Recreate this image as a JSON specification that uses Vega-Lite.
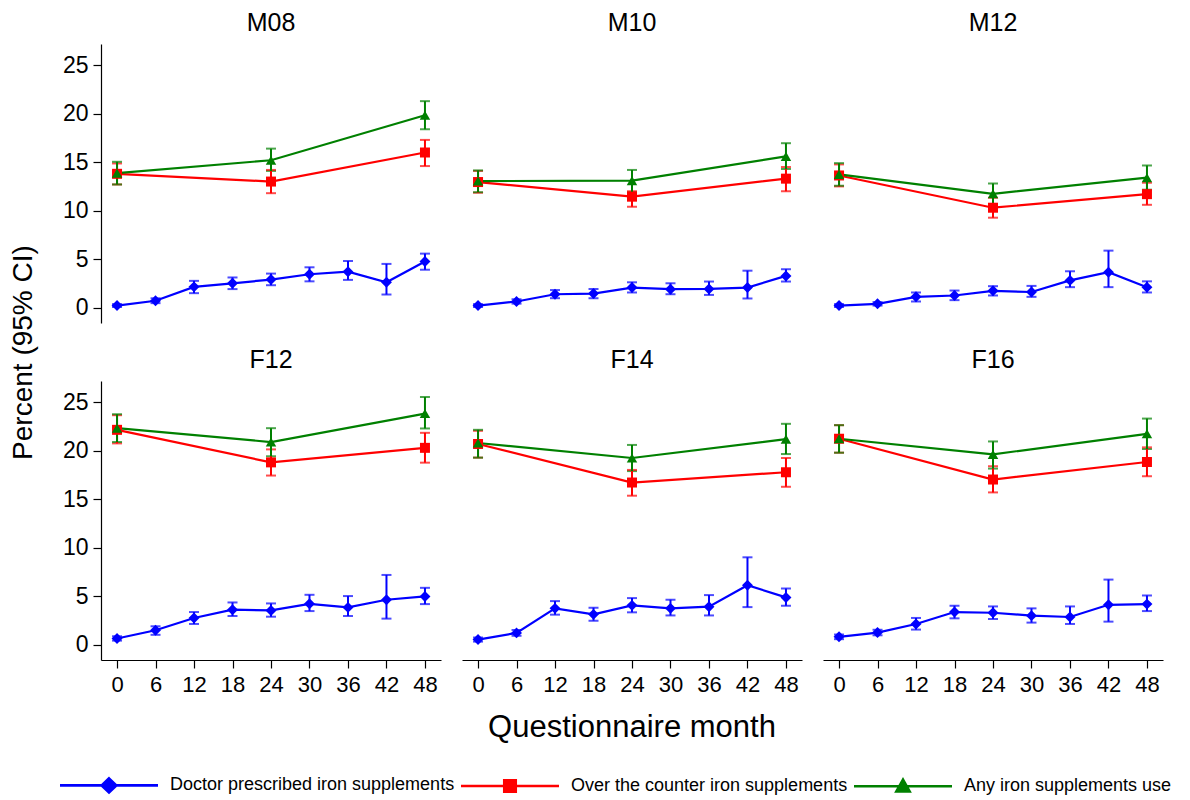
{
  "$schema": "https://vega.github.io/schema/vega-lite/v6.json",
  "background": "white",
  "padding": {"left": 9, "top": 11, "right": 5, "bottom": 5},
  "title": {"text": "Percent (95% CI)", "orient": "left", "anchor": "middle", "fontSize": 28, "fontWeight": "normal", "font": "Liberation Sans", "color": "#000", "offset": 20, "dx": 52},
  "data": {"values": [
    {"g":"M08","s":"Doctor prescribed iron supplements","m":0,"v":0.2,"lo":0.05,"hi":0.35},
    {"g":"M08","s":"Doctor prescribed iron supplements","m":6,"v":0.7,"lo":0.45,"hi":0.95},
    {"g":"M08","s":"Doctor prescribed iron supplements","m":12,"v":2.13,"lo":1.48,"hi":2.75},
    {"g":"M08","s":"Doctor prescribed iron supplements","m":18,"v":2.5,"lo":1.9,"hi":3.1},
    {"g":"M08","s":"Doctor prescribed iron supplements","m":24,"v":2.88,"lo":2.3,"hi":3.5},
    {"g":"M08","s":"Doctor prescribed iron supplements","m":30,"v":3.43,"lo":2.7,"hi":4.15},
    {"g":"M08","s":"Doctor prescribed iron supplements","m":36,"v":3.7,"lo":2.85,"hi":4.8},
    {"g":"M08","s":"Doctor prescribed iron supplements","m":42,"v":2.6,"lo":1.34,"hi":4.5},
    {"g":"M08","s":"Doctor prescribed iron supplements","m":48,"v":4.74,"lo":3.9,"hi":5.56},
    {"g":"M08","s":"Over the counter iron supplements","m":0,"v":13.8,"lo":12.7,"hi":14.87},
    {"g":"M08","s":"Over the counter iron supplements","m":24,"v":13.0,"lo":11.8,"hi":14.2},
    {"g":"M08","s":"Over the counter iron supplements","m":48,"v":16.0,"lo":14.6,"hi":17.3},
    {"g":"M08","s":"Any iron supplements use","m":0,"v":13.87,"lo":12.7,"hi":15.04},
    {"g":"M08","s":"Any iron supplements use","m":24,"v":15.2,"lo":14.1,"hi":16.4},
    {"g":"M08","s":"Any iron supplements use","m":48,"v":19.85,"lo":18.4,"hi":21.3},

    {"g":"M10","s":"Doctor prescribed iron supplements","m":0,"v":0.2,"lo":0.05,"hi":0.35},
    {"g":"M10","s":"Doctor prescribed iron supplements","m":6,"v":0.62,"lo":0.4,"hi":0.85},
    {"g":"M10","s":"Doctor prescribed iron supplements","m":12,"v":1.37,"lo":0.96,"hi":1.8},
    {"g":"M10","s":"Doctor prescribed iron supplements","m":18,"v":1.44,"lo":0.96,"hi":1.9},
    {"g":"M10","s":"Doctor prescribed iron supplements","m":24,"v":2.06,"lo":1.55,"hi":2.6},
    {"g":"M10","s":"Doctor prescribed iron supplements","m":30,"v":1.89,"lo":1.37,"hi":2.5},
    {"g":"M10","s":"Doctor prescribed iron supplements","m":36,"v":1.92,"lo":1.3,"hi":2.68},
    {"g":"M10","s":"Doctor prescribed iron supplements","m":42,"v":2.06,"lo":0.93,"hi":3.8},
    {"g":"M10","s":"Doctor prescribed iron supplements","m":48,"v":3.26,"lo":2.68,"hi":3.95},
    {"g":"M10","s":"Over the counter iron supplements","m":0,"v":12.95,"lo":11.85,"hi":14.1},
    {"g":"M10","s":"Over the counter iron supplements","m":24,"v":11.44,"lo":10.4,"hi":12.0},
    {"g":"M10","s":"Over the counter iron supplements","m":48,"v":13.3,"lo":12.0,"hi":14.5},
    {"g":"M10","s":"Any iron supplements use","m":0,"v":13.05,"lo":11.9,"hi":14.15},
    {"g":"M10","s":"Any iron supplements use","m":24,"v":13.1,"lo":11.9,"hi":14.2},
    {"g":"M10","s":"Any iron supplements use","m":48,"v":15.6,"lo":14.3,"hi":16.96},

    {"g":"M12","s":"Doctor prescribed iron supplements","m":0,"v":0.2,"lo":0.05,"hi":0.35},
    {"g":"M12","s":"Doctor prescribed iron supplements","m":6,"v":0.38,"lo":0.2,"hi":0.56},
    {"g":"M12","s":"Doctor prescribed iron supplements","m":12,"v":1.1,"lo":0.62,"hi":1.55},
    {"g":"M12","s":"Doctor prescribed iron supplements","m":18,"v":1.24,"lo":0.76,"hi":1.75},
    {"g":"M12","s":"Doctor prescribed iron supplements","m":24,"v":1.72,"lo":1.24,"hi":2.2},
    {"g":"M12","s":"Doctor prescribed iron supplements","m":30,"v":1.6,"lo":1.1,"hi":2.23},
    {"g":"M12","s":"Doctor prescribed iron supplements","m":36,"v":2.8,"lo":2.1,"hi":3.74},
    {"g":"M12","s":"Doctor prescribed iron supplements","m":42,"v":3.64,"lo":2.1,"hi":5.87},
    {"g":"M12","s":"Doctor prescribed iron supplements","m":48,"v":2.1,"lo":1.55,"hi":2.7},
    {"g":"M12","s":"Over the counter iron supplements","m":0,"v":13.63,"lo":12.5,"hi":14.77},
    {"g":"M12","s":"Over the counter iron supplements","m":24,"v":10.3,"lo":9.27,"hi":11.33},
    {"g":"M12","s":"Over the counter iron supplements","m":48,"v":11.7,"lo":10.6,"hi":12.88},
    {"g":"M12","s":"Any iron supplements use","m":0,"v":13.74,"lo":12.57,"hi":14.9},
    {"g":"M12","s":"Any iron supplements use","m":24,"v":11.74,"lo":10.65,"hi":12.8},
    {"g":"M12","s":"Any iron supplements use","m":48,"v":13.4,"lo":12.16,"hi":14.66},

    {"g":"F12","s":"Doctor prescribed iron supplements","m":0,"v":0.62,"lo":0.4,"hi":0.85},
    {"g":"F12","s":"Doctor prescribed iron supplements","m":6,"v":1.47,"lo":1.0,"hi":1.88},
    {"g":"F12","s":"Doctor prescribed iron supplements","m":12,"v":2.74,"lo":2.12,"hi":3.35},
    {"g":"F12","s":"Doctor prescribed iron supplements","m":18,"v":3.59,"lo":2.94,"hi":4.34},
    {"g":"F12","s":"Doctor prescribed iron supplements","m":24,"v":3.52,"lo":2.87,"hi":4.24},
    {"g":"F12","s":"Doctor prescribed iron supplements","m":30,"v":4.2,"lo":3.45,"hi":5.13},
    {"g":"F12","s":"Doctor prescribed iron supplements","m":36,"v":3.83,"lo":2.94,"hi":5.0},
    {"g":"F12","s":"Doctor prescribed iron supplements","m":42,"v":4.62,"lo":2.67,"hi":7.18},
    {"g":"F12","s":"Doctor prescribed iron supplements","m":48,"v":4.96,"lo":4.17,"hi":5.85},
    {"g":"F12","s":"Over the counter iron supplements","m":0,"v":22.16,"lo":20.76,"hi":23.67},
    {"g":"F12","s":"Over the counter iron supplements","m":24,"v":18.8,"lo":17.44,"hi":20.14},
    {"g":"F12","s":"Over the counter iron supplements","m":48,"v":20.3,"lo":18.77,"hi":21.85},
    {"g":"F12","s":"Any iron supplements use","m":0,"v":22.33,"lo":20.9,"hi":23.77},
    {"g":"F12","s":"Any iron supplements use","m":24,"v":20.9,"lo":19.43,"hi":22.33},
    {"g":"F12","s":"Any iron supplements use","m":48,"v":23.84,"lo":22.3,"hi":25.55},

    {"g":"F14","s":"Doctor prescribed iron supplements","m":0,"v":0.51,"lo":0.3,"hi":0.72},
    {"g":"F14","s":"Doctor prescribed iron supplements","m":6,"v":1.2,"lo":0.9,"hi":1.5},
    {"g":"F14","s":"Doctor prescribed iron supplements","m":12,"v":3.73,"lo":3.08,"hi":4.48},
    {"g":"F14","s":"Doctor prescribed iron supplements","m":18,"v":3.11,"lo":2.46,"hi":3.8},
    {"g":"F14","s":"Doctor prescribed iron supplements","m":24,"v":4.04,"lo":3.32,"hi":4.79},
    {"g":"F14","s":"Doctor prescribed iron supplements","m":30,"v":3.73,"lo":3.0,"hi":4.62},
    {"g":"F14","s":"Doctor prescribed iron supplements","m":36,"v":3.9,"lo":3.0,"hi":5.1},
    {"g":"F14","s":"Doctor prescribed iron supplements","m":42,"v":6.12,"lo":3.86,"hi":9.0},
    {"g":"F14","s":"Doctor prescribed iron supplements","m":48,"v":4.86,"lo":4.0,"hi":5.78},
    {"g":"F14","s":"Over the counter iron supplements","m":0,"v":20.7,"lo":19.29,"hi":22.06},
    {"g":"F14","s":"Over the counter iron supplements","m":24,"v":16.72,"lo":15.36,"hi":18.02},
    {"g":"F14","s":"Over the counter iron supplements","m":48,"v":17.78,"lo":16.28,"hi":19.25},
    {"g":"F14","s":"Any iron supplements use","m":0,"v":20.8,"lo":19.29,"hi":22.16},
    {"g":"F14","s":"Any iron supplements use","m":24,"v":19.25,"lo":17.9,"hi":20.6},
    {"g":"F14","s":"Any iron supplements use","m":48,"v":21.2,"lo":19.66,"hi":22.78},

    {"g":"F16","s":"Doctor prescribed iron supplements","m":0,"v":0.79,"lo":0.55,"hi":1.03},
    {"g":"F16","s":"Doctor prescribed iron supplements","m":6,"v":1.23,"lo":0.95,"hi":1.52},
    {"g":"F16","s":"Doctor prescribed iron supplements","m":12,"v":2.12,"lo":1.54,"hi":2.74},
    {"g":"F16","s":"Doctor prescribed iron supplements","m":18,"v":3.35,"lo":2.7,"hi":4.0},
    {"g":"F16","s":"Doctor prescribed iron supplements","m":24,"v":3.28,"lo":2.63,"hi":3.93},
    {"g":"F16","s":"Doctor prescribed iron supplements","m":30,"v":2.98,"lo":2.26,"hi":3.73},
    {"g":"F16","s":"Doctor prescribed iron supplements","m":36,"v":2.84,"lo":2.12,"hi":3.93},
    {"g":"F16","s":"Doctor prescribed iron supplements","m":42,"v":4.1,"lo":2.36,"hi":6.7},
    {"g":"F16","s":"Doctor prescribed iron supplements","m":48,"v":4.17,"lo":3.45,"hi":5.06},
    {"g":"F16","s":"Over the counter iron supplements","m":0,"v":21.24,"lo":19.8,"hi":22.64},
    {"g":"F16","s":"Over the counter iron supplements","m":24,"v":17.03,"lo":15.7,"hi":18.4},
    {"g":"F16","s":"Over the counter iron supplements","m":48,"v":18.84,"lo":17.37,"hi":20.35},
    {"g":"F16","s":"Any iron supplements use","m":0,"v":21.24,"lo":19.8,"hi":22.64},
    {"g":"F16","s":"Any iron supplements use","m":24,"v":19.63,"lo":18.16,"hi":20.96},
    {"g":"F16","s":"Any iron supplements use","m":48,"v":21.75,"lo":20.18,"hi":23.32}
  ]},
  "facet": {
    "field": "g", "type": "nominal",
    "sort": ["M08","M10","M12","F12","F14","F16"],
    "title": "Questionnaire month",
    "header": {"titleOrient": "bottom", "labelOrient": "top", "titleFontSize": 31, "titleFont": "Liberation Sans", "titleColor": "#000", "titleFontWeight": "normal", "titlePadding": 18,
               "labelFontSize": 25, "labelFont": "Liberation Sans", "labelColor": "#000", "labelPadding": 8}
  },
  "columns": 3,
  "spacing": {"row": 25, "column": 21},
  "spec": {
    "width": 340,
    "height": 279,
    "encoding": {
      "x": {"field": "m", "type": "quantitative", "scale": {"domain": [-2.5, 50.5], "nice": false, "zero": false},
            "axis": {"values": [0,6,12,18,24,30,36,42,48], "title": null}},
      "y": {"field": "v", "type": "quantitative", "scale": {"domain": [-1.6, 27.2], "nice": false, "zero": false},
            "axis": {"values": [0,5,10,15,20,25], "title": null}},
      "color": {"field": "s", "type": "nominal",
                "scale": {"domain": ["Doctor prescribed iron supplements","Over the counter iron supplements","Any iron supplements use"], "range": ["#0000ff","#ff0000","#008000"]},
                "legend": {"orient": "none", "legendX": -43, "legendY": 732, "direction": "horizontal", "title": null, "padding": 0, "symbolSize": 196, "symbolStrokeWidth": 2.6, "symbolOpacity": 1, "labelFontSize": 18, "labelFont": "Liberation Sans", "labelColor": "#000", "labelLimit": 600, "labelOffset": 94, "columnPadding": 0}
      }
    },
    "layer": [
      {"mark": {"type": "point", "filled": false, "opacity": 0, "size": 1},
       "encoding": {"shape": {"field": "s", "type": "nominal",
          "scale": {"domain": ["Doctor prescribed iron supplements","Over the counter iron supplements","Any iron supplements use"],
                    "range": ["M-1,0H13M6,-1L7.05,0L6,1L4.95,0ZM6,-0.65L6.7,0L6,0.65L5.3,0ZM6,-0.3L6.32,0L6,0.3L5.68,0Z",
                              "M-1,0H13M5.18,-0.82H6.82V0.82H5.18ZM5.55,-0.45H6.45V0.45H5.55ZM5.9,-0.1H6.1V0.1H5.9Z",
                              "M-1,0H13M6,-0.95L6.95,0.75H5.05ZM6,-0.45L6.45,0.45H5.55Z"]}}}},
      {"mark": {"type": "errorbar", "ticks": {"size": 10, "thickness": 2}, "thickness": 2},
       "encoding": {"y": {"field": "lo", "type": "quantitative"},
                    "y2": {"field": "hi"}}},
      {"mark": {"type": "line", "strokeWidth": 2.2}},
      {"transform": [{"filter": "datum.s === 'Doctor prescribed iron supplements'"}],
       "mark": {"type": "point", "filled": true, "opacity": 1, "size": 120, "shape": "diamond"}},
      {"transform": [{"filter": "datum.s === 'Over the counter iron supplements'"}],
       "mark": {"type": "point", "filled": true, "opacity": 1, "size": 100, "shape": "square"}},
      {"transform": [{"filter": "datum.s === 'Any iron supplements use'"}],
       "mark": {"type": "point", "filled": true, "opacity": 1, "size": 110, "shape": "triangle-up"}}
    ]
  },
  "config": {
    "font": "Liberation Sans",
    "view": {"stroke": null},
    "axis": {"grid": false, "domainColor": "#000", "tickColor": "#000", "labelColor": "#000", "labelFont": "Liberation Sans", "tickSize": 8, "domainWidth": 1.2, "tickWidth": 1.2},
    "axisX": {"labelFontSize": 22, "labelPadding": 6},
    "axisY": {"labelFontSize": 23, "labelPadding": 5}
  }
}
